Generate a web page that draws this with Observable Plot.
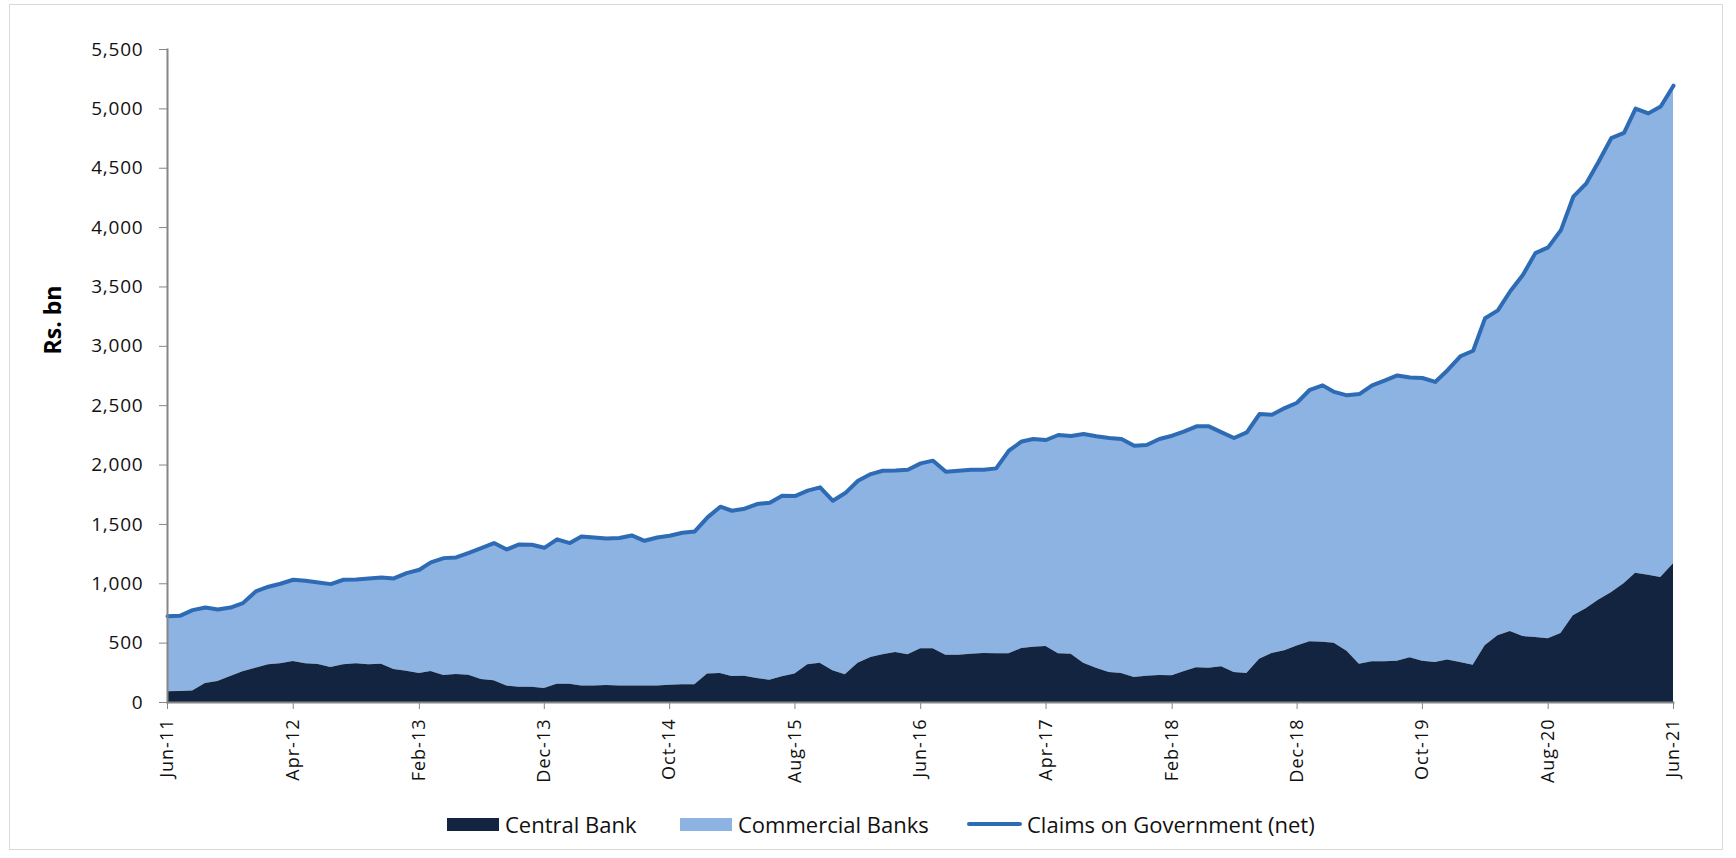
<!DOCTYPE html>
<html>
<head>
<meta charset="utf-8">
<script src="https://cdn.jsdelivr.net/npm/d3@7"></script>
<script src="https://cdn.jsdelivr.net/npm/@observablehq/plot@0.6"></script>
<style>
  body { margin: 0; background: #fff; }
  #wrap { position: relative; width: 1736px; height: 858px; overflow: hidden; background: #fff; }
  #frame { position: absolute; left: 9px; top: 4px; width: 1714px; height: 846px; border: 1px solid #d9d9d9; box-sizing: border-box; }
  #chart { position: absolute; left: 0; top: 0; }
  #ylabel { position: absolute; left: 52px; top: 320px; line-height: 1; transform: translate(-50%, -50%) rotate(-90deg);
            font-family: "Open Sans", sans-serif; font-weight: 700; font-size: 23px; color: #000; white-space: nowrap; }
  .leg { position: absolute; top: 811px; display: flex; align-items: center; height: 26px;
         font-family: "Open Sans", sans-serif; font-size: 22px; color: #111; white-space: nowrap; }
  .sw { display: inline-block; width: 52px; height: 13px; margin-right: 6px; }
  .ln { display: inline-block; width: 55px; height: 4px; margin-right: 5px; border-radius: 2px; }
  #chart text { font-family: "Open Sans", sans-serif; }
</style>
</head>
<body>
<div id="wrap">
  <div id="frame"></div>
  <div id="chart"></div>
  <div id="ylabel">Rs. bn</div>
  <div id="legend"></div>
</div>
<script>
// Monthly, Jun-11 .. Jun-21 (121 months)
const startMonth = new Date(Date.UTC(2011, 5, 1));
const endMonth = new Date(Date.UTC(2021, 6, 1));

// Claims on Government (net), Rs. bn (total = Central Bank + Commercial Banks)
const totalClaims = [
  727, 730, 778, 800, 784, 800, 837, 935, 975, 1000,
  1034, 1025, 1011, 997, 1034, 1036, 1045, 1053, 1045, 1090,
  1118, 1180, 1216, 1222, 1261, 1300, 1343, 1289, 1331, 1329,
  1303, 1374, 1343, 1399, 1390, 1382, 1385, 1407, 1362, 1390,
  1404, 1430, 1441, 1559, 1649, 1615, 1632, 1671, 1683, 1742,
  1739, 1784, 1812, 1699, 1764, 1868, 1924, 1952, 1955, 1961,
  2014, 2037, 1944, 1952, 1961, 1961, 1972, 2121, 2199, 2219,
  2211, 2253, 2244, 2261, 2242, 2228, 2219, 2163, 2169, 2219,
  2247, 2281, 2326, 2326, 2275, 2228, 2275, 2430, 2424, 2480,
  2525, 2634, 2671, 2616, 2587, 2598, 2671, 2711, 2755, 2737,
  2733, 2700, 2799, 2916, 2963, 3237, 3303, 3464, 3602, 3785,
  3833, 3979, 4260, 4370, 4552, 4753, 4797, 5002, 4962, 5020,
  5195
];

// Central Bank claims, Rs. bn
const centralBank = [
  90, 93, 96, 160, 177, 219, 258, 289, 317, 326,
  346, 326, 320, 295, 317, 326, 317, 323, 278, 264,
  244, 261, 228, 236, 230, 194, 183, 138, 129, 129,
  118, 154, 154, 140, 140, 143, 140, 140, 140, 138,
  146, 149, 149, 239, 244, 219, 222, 202, 188, 216,
  239, 317, 331, 267, 233, 331, 379, 402, 421, 402,
  452, 452, 399, 399, 407, 413, 410, 410, 455, 466,
  472, 410, 407, 331, 289, 253, 244, 211, 222, 228,
  225, 258, 292, 289, 301, 253, 244, 365, 413, 435,
  475, 512, 508, 500, 431, 322, 343, 343, 347, 376,
  347, 336, 358, 336, 314, 479, 563, 599, 555, 548,
  537, 581, 731, 789, 862, 924, 1001, 1089, 1071, 1052,
  1169
];

const tickLabels = ["Jun-11","Apr-12","Feb-13","Dec-13","Oct-14","Aug-15","Jun-16","Apr-17","Feb-18","Dec-18","Oct-19","Aug-20","Jun-21"];
const yTicks = [0, 500, 1000, 1500, 2000, 2500, 3000, 3500, 4000, 4500, 5000, 5500];

const seriesNames = ["Central Bank", "Commercial Banks", "Claims on Government (net)"];
const seriesColors = ["#12243f", "#8db3e2", "#2e6bb5"];

const months = d3.utcMonth.range(startMonth, endMonth);
const data = months.map((d, i) => ({
  date: d,
  central: centralBank[i],
  total: totalClaims[i],
  commercial: totalClaims[i] - centralBank[i]
}));
const tickDates = tickLabels.map((_, k) => months[k * 10]);
const labelByTime = new Map(tickDates.map((d, k) => [+d, tickLabels[k]]));

const axisGrey = "#868686";

const chart = Plot.plot({
  width: 1736,
  height: 790,
  marginLeft: 167,
  marginRight: 63,
  marginTop: 49,
  marginBottom: 88,
  style: { background: "transparent", color: "#000", overflow: "visible" },
  x: { type: "utc", domain: [months[0], months[months.length - 1]] },
  y: { domain: [0, 5500] },
  marks: [
    Plot.area(data, { x1: "date", y1: "central", y2: "total", fill: seriesColors[1], curve: "linear" }),
    Plot.area(data, { x1: "date", y1: 0, y2: "central", fill: seriesColors[0], curve: "linear" }),
    Plot.line(data, { x: "date", y: "total", stroke: seriesColors[2], strokeWidth: 4, strokeLinejoin: "round", strokeLinecap: "round", curve: "linear" }),
    Plot.frame({ anchor: "left", stroke: axisGrey, strokeWidth: 2 }),
    Plot.frame({ anchor: "bottom", stroke: axisGrey, strokeWidth: 2 }),
    Plot.axisY({
      ticks: yTicks, tickFormat: d3.format(","), tickSize: 8, tickPadding: 16,
      stroke: axisGrey, fill: "#111", fontSize: 19, label: null
    }),
    Plot.axisX({
      ticks: tickDates, tickFormat: d => labelByTime.get(+d), tickSize: 7, tickPadding: 9,
      tickRotate: -90, stroke: axisGrey, fill: "#111", fontSize: 18, label: null
    })
  ]
});
chart.querySelectorAll('g[aria-label="y-axis tick label"] text').forEach(t => t.setAttribute("letter-spacing", "0.8"));
chart.querySelectorAll('g[aria-label="x-axis tick label"] text').forEach(t => t.setAttribute("letter-spacing", "1"));
document.getElementById("chart").appendChild(chart);

// Legend
const legend = document.getElementById("legend");
const legendLeft = [447, 680, 967];
seriesNames.forEach((name, i) => {
  const item = document.createElement("div");
  item.className = "leg";
  item.style.left = legendLeft[i] + "px";
  const sw = document.createElement("span");
  sw.className = i === 2 ? "ln" : "sw";
  sw.style.background = seriesColors[i];
  const tx = document.createElement("span");
  tx.textContent = name;
  item.appendChild(sw);
  item.appendChild(tx);
  legend.appendChild(item);
});
</script>
</body>
</html>
